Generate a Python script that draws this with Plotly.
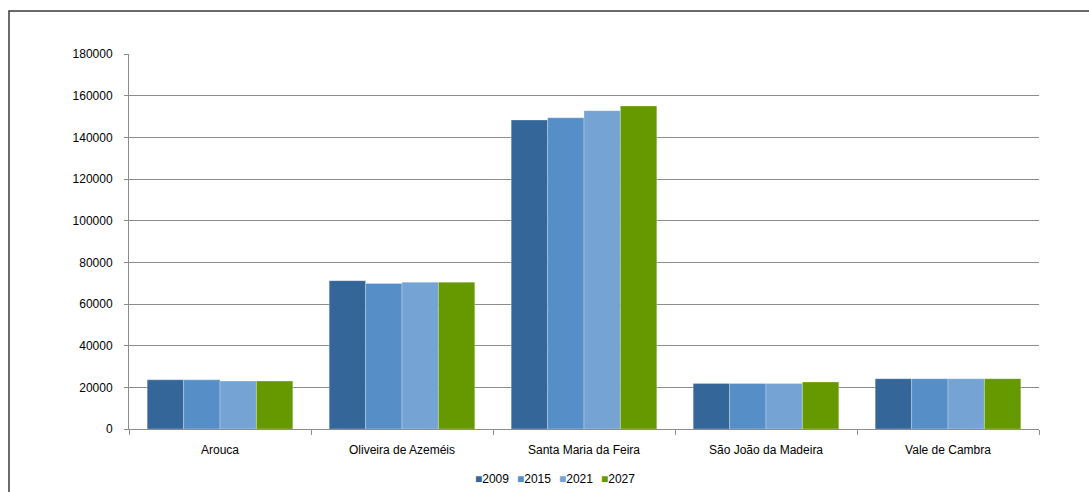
import plotly.graph_objects as go

# Municipalities and projected population by year
municipios = ["Arouca", "Oliveira de Azeméis", "Santa Maria da Feira",
              "São João da Madeira", "Vale de Cambra"]
anos = ["2009", "2015", "2021", "2027"]
pop_2009 = [23600, 71200, 148300, 21900, 24150]
pop_2015 = [23600, 69900, 149400, 21900, 24150]
pop_2021 = [23000, 70500, 152800, 21900, 24150]
pop_2027 = [23000, 70500, 155050, 22550, 24150]
series = [pop_2009, pop_2015, pop_2021, pop_2027]
cores = ["#346699", "#568fc8", "#75a3d3", "#669900"]
y_ticks = [0, 20000, 40000, 60000, 80000, 100000, 120000, 140000, 160000, 180000]

fig = go.Figure()
for ano, vals, cor in zip(anos, series, cores):
    fig.add_trace(go.Bar(
        x=municipios, y=vals, name=ano,
        marker=dict(color=cor, line=dict(width=0.6, color="rgba(255,255,255,0.45)")),
    ))

# plot area in pixels: x 129..1039, y 54..429
L, R, T, B = 129, 50, 54, 63
W, H = 1089, 492
pw, ph = W - L - R, H - T - B

def px_x(p):
    return (p - L) / pw

def px_y(p):
    return (H - B - p) / ph

# outer chart frame (open to the right and bottom of the page)
fig.add_shape(type="rect", xref="paper", yref="paper",
              x0=px_x(9), x1=px_x(1200), y0=px_y(11), y1=px_y(600),
              line=dict(color="#3a3a3a", width=1.5), fillcolor="rgba(0,0,0,0)",
              layer="below")

# compact legend row: coloured square followed by the year, one entry each
legend_left, legend_step = 473, 42
for i, (ano, cor) in enumerate(zip(anos, cores)):
    fig.add_annotation(xref="paper", yref="paper",
                       x=px_x(legend_left + i * legend_step), y=px_y(479),
                       xanchor="left", yanchor="middle", showarrow=False,
                       text=f"<span style='color:{cor}'>■</span>{ano}",
                       font=dict(size=12, color="#000000"))

fig.update_layout(
    width=W, height=H,
    margin=dict(l=L, r=R, t=T, b=B, autoexpand=False),
    paper_bgcolor="white", plot_bgcolor="white",
    font=dict(family="Liberation Sans, Arial, sans-serif", size=12, color="#000000"),
    barmode="group", bargap=0.2, bargroupgap=0,
    showlegend=False,
    xaxis=dict(showline=True, linecolor="#8c8c8c", linewidth=1,
               ticks="outside", tickson="boundaries", ticklen=5, tickcolor="#8c8c8c",
               showgrid=False, ticklabelstandoff=10),
    yaxis=dict(range=[0, 180000], tickvals=y_ticks,
               showline=True, linecolor="#8c8c8c", linewidth=1,
               ticks="outside", ticklen=4, tickcolor="#8c8c8c",
               showgrid=True, gridcolor="#8c8c8c", gridwidth=1,
               zeroline=False, ticklabelstandoff=9, tickformat="d"),
)

fig.write_html("out.html")
